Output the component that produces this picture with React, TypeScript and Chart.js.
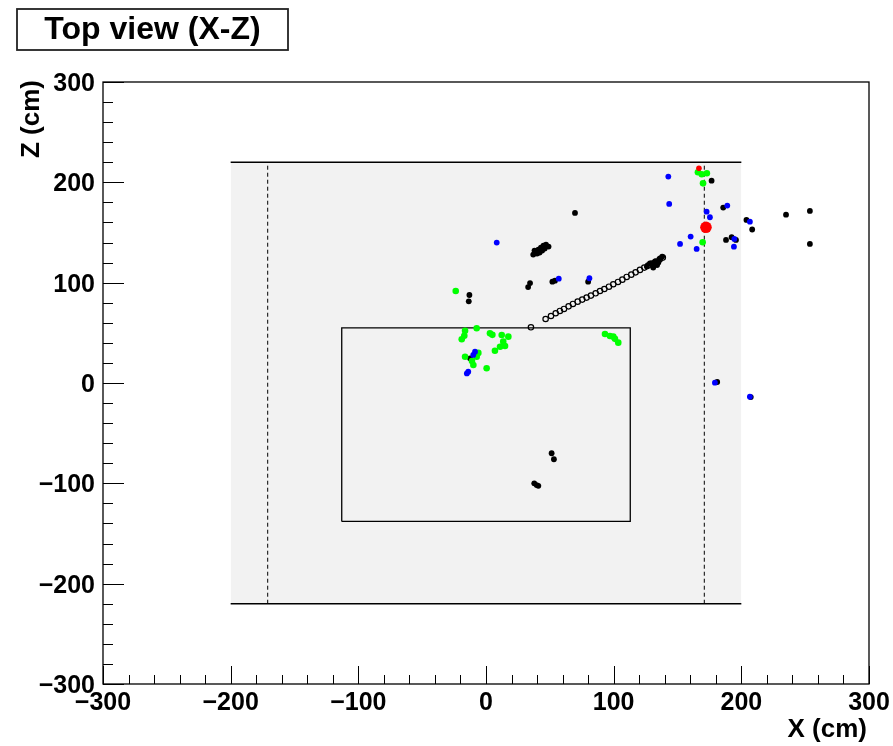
import React, { useEffect, useRef } from 'react';
import { Chart, registerables } from 'chart.js';

Chart.register(...registerables);

// ---- axis ticks ----
const xTicks = [-300, -200, -100, 0, 100, 200, 300];
const xTickLabels = ['−300', '−200', '−100', '0', '100', '200', '300'];
const zTicks = [-300, -200, -100, 0, 100, 200, 300];
const zTickLabels = ['−300', '−200', '−100', '0', '100', '200', '300'];

// ---- detector geometry (cm) ----
const outerX = [-200, 200];
const outerZ = [-220, 220];
const dashX = [-171, 171];
const innerX = [-113, 113];
const innerZ = [-138, 55];

// ---- track (open circles) ----
const trackX = [35.2, 46.7, 50.9, 54.6, 57.9, 61.1, 64.7, 68.1, 71.8, 75.4, 78.8, 82.2, 85.9, 89.3, 92.7, 96.3, 99.7, 103.4, 106.8, 110.2, 113.8, 117.2, 120.6, 124.0, 127.0, 130.0, 133.0, 136.0, 138.5];
const trackZ = [55.5, 63.8, 66.8, 69.5, 71.8, 73.8, 76.4, 78.8, 81.1, 83.1, 85.1, 87.1, 89.4, 91.7, 93.7, 96.0, 98.4, 100.7, 103.0, 105.7, 108.0, 110.3, 112.7, 115.0, 117.0, 119.0, 121.0, 123.0, 125.0];

// ---- hits ----
const blackX = [69.7, 37, 39, 41, 43, 45, 47, 49, 40, 44, 46, 42, 38, 33, 34.5, -13, -13.5, 54, 52, 80, 128.4, 132.3, 136.3, 134, 130, 126, 138, 131, 135, 185.8, 188, 192.4, 195.8, 204, 208.5, 235, 253.7, 253.7, 181.1, 207.4, 51.4, 53.2, 39.7, 37.8, 41, -12.5, 176.7];
const blackZ = [169.5, 128, 131, 133, 135, 137, 138, 136, 129, 132, 134, 130, 132, 95.6, 99.6, 87.7, 81.4, 102, 101, 101, 119.3, 121, 124.3, 117.6, 118, 116, 126, 115, 120, 174.8, 142.6, 145.3, 142.6, 162.5, 153, 167.8, 171.5, 138.6, 1, -14, -70, -76, -101.7, -100, -102.5, 24.6, 201.7];

const blueX = [8.4, 57, 81, 152, 160.3, 165, 142.8, 143.5, 172.8, 175.4, 189, 194.5, 194.2, 206.7, 179.3, 206.7, -8.6, -13.9, -15, -10];
const blueZ = [140, 104, 104.4, 138.6, 145.9, 133.6, 205.7, 178.5, 170.8, 165.2, 176.8, 143.6, 135.9, 160.8, 0.3, -13.7, 31.2, 11.3, 9.5, 28];

const greenX = [-23.7, 166, 169, 173, 170, 169.7, -16.4, -19, -17, -7.3, 3.1, 5, 12.3, 17.5, 13.5, 11, 14.9, 7, -16.4, -7.3, -9.9, 0.5, -11, -6, 93.2, 97.1, 99.7, 103.6, 101];
const greenZ = [91.7, 210, 208, 209, 199, 140.3, 52.1, 43.6, 47, 54.5, 49.5, 48, 47.9, 46.2, 41.2, 36.2, 36.9, 32.2, 26.2, 26.2, 17.9, 14.7, 22, 30, 48.9, 46.9, 46.2, 40.2, 44];

const redX = [166.8, 172.3];
const redZ = [214, 155.2];

const titleText = 'Top view (X-Z)';
const xTitle = 'X (cm)';
const zTitle = 'Z (cm)';

const toPts = (xs: number[], zs: number[]) => xs.map((x, i) => ({ x, y: zs[i] }));

const FONT = '"Liberation Sans", Arial, Helvetica, sans-serif';

const framePlugin = {
  id: 'rootFrame',
  afterDraw(chart: any) {
    const ctx = chart.ctx as CanvasRenderingContext2D;
    const xs = chart.scales.x;
    const ys = chart.scales.y;
    const { left, right, top, bottom } = chart.chartArea;
    ctx.save();
    ctx.strokeStyle = '#000';
    ctx.lineWidth = 1.3;
    ctx.strokeRect(left, top, right - left, bottom - top);

    // minor + major ticks
    ctx.lineWidth = 1;
    ctx.beginPath();
    for (let v = -300; v <= 300; v += 20) {
      const isMajor = v % 100 === 0;
      const px = Math.round(xs.getPixelForValue(v)) + 0.5;
      ctx.moveTo(px, bottom);
      ctx.lineTo(px, bottom - (isMajor ? 18 : 9));
      const py = Math.round(ys.getPixelForValue(v)) + 0.5;
      ctx.moveTo(left, py);
      ctx.lineTo(left + (isMajor ? 21 : 10), py);
    }
    ctx.stroke();

    ctx.fillStyle = '#000';
    ctx.font = `bold 25px ${FONT}`;
    ctx.textBaseline = 'alphabetic';
    ctx.textAlign = 'center';
    xTicks.forEach((v, i) => {
      ctx.fillText(xTickLabels[i], xs.getPixelForValue(v), 710);
    });
    ctx.textAlign = 'right';
    zTicks.forEach((v, i) => {
      ctx.fillText(zTickLabels[i], left - 8, ys.getPixelForValue(v) + 9);
    });

    // axis titles
    ctx.font = `bold 26px ${FONT}`;
    ctx.textAlign = 'right';
    ctx.fillText(xTitle, right - 2, 737);
    ctx.save();
    ctx.translate(39, top - 2);
    ctx.rotate(-Math.PI / 2);
    ctx.textAlign = 'right';
    ctx.fillText(zTitle, 0, 0);
    ctx.restore();

    // title box
    ctx.lineWidth = 1.8;
    ctx.strokeStyle = '#222';
    ctx.strokeRect(17, 9, 271, 41);
    ctx.font = `bold 32px ${FONT}`;
    ctx.textAlign = 'center';
    ctx.fillText(titleText, 152.5, 38.5);
    ctx.restore();
  },
};

export default function App() {
  const ref = useRef<HTMLCanvasElement | null>(null);
  useEffect(() => {
    if (!ref.current) return;
    const hit = (xs: number[], zs: number[], color: string, r: number, order: number) => ({
      type: 'scatter' as const,
      data: toPts(xs, zs),
      pointRadius: r,
      pointBackgroundColor: color,
      pointBorderWidth: 0,
      pointBorderColor: color,
      order,
    });
    const chart = new Chart(ref.current, {
      type: 'scatter',
      data: {
        datasets: [
          { ...hit(redX, redZ, '#ff0000', 2.8, 0), pointRadius: [2.8, 5.8] } as any,
          hit(blueX, blueZ, '#0000ff', 2.9, 1),
          hit(greenX, greenZ, '#00ff00', 3.3, 2),
          hit(blackX, blackZ, '#000000', 2.9, 3),
          {
            type: 'scatter',
            data: toPts(trackX, trackZ),
            pointRadius: 2.7,
            pointBackgroundColor: 'rgba(0,0,0,0)',
            pointBorderColor: '#000',
            pointBorderWidth: 1.2,
            order: 4,
          },
          {
            type: 'line',
            data: [
              { x: innerX[0], y: innerZ[0] },
              { x: innerX[1], y: innerZ[0] },
              { x: innerX[1], y: innerZ[1] },
              { x: innerX[0], y: innerZ[1] },
              { x: innerX[0], y: innerZ[0] },
            ],
            borderColor: '#000',
            borderWidth: 1.3,
            pointRadius: 0,
            fill: false,
            tension: 0,
            order: 10,
          },
          {
            type: 'line',
            data: [{ x: dashX[0], y: outerZ[0] }, { x: dashX[0], y: outerZ[1] }],
            borderColor: '#000',
            borderWidth: 1,
            borderDash: [4, 3],
            pointRadius: 0,
            fill: false,
            order: 11,
          },
          {
            type: 'line',
            data: [{ x: dashX[1], y: outerZ[0] }, { x: dashX[1], y: outerZ[1] }],
            borderColor: '#000',
            borderWidth: 1,
            borderDash: [4, 3],
            pointRadius: 0,
            fill: false,
            order: 11,
          },
          {
            type: 'line',
            data: [{ x: outerX[0], y: outerZ[1] }, { x: outerX[1], y: outerZ[1] }],
            borderColor: '#000',
            borderWidth: 1.3,
            backgroundColor: '#f2f2f2',
            pointRadius: 0,
            fill: '+1',
            order: 20,
          },
          {
            type: 'line',
            data: [{ x: outerX[0], y: outerZ[0] }, { x: outerX[1], y: outerZ[0] }],
            borderColor: '#000',
            borderWidth: 1.3,
            pointRadius: 0,
            fill: false,
            order: 19,
          },
        ] as any,
      },
      options: {
        responsive: false,
        animation: false,
        devicePixelRatio: 1,
        layout: { padding: { left: 103, right: 24, top: 82, bottom: 62 } },
        scales: {
          x: { type: 'linear', min: -300, max: 300, display: false },
          y: { type: 'linear', min: -300, max: 300, display: false },
        },
        plugins: {
          legend: { display: false },
          tooltip: { enabled: false },
          title: { display: false },
        },
      },
      plugins: [framePlugin],
    });
    return () => chart.destroy();
  }, []);
  return (
    <div style={{ position: 'absolute', left: 0, top: 0, width: 893, height: 746, background: '#fff' }}>
      <canvas ref={ref} width={893} height={746} style={{ width: 893, height: 746, display: 'block' }} />
    </div>
  );
}
